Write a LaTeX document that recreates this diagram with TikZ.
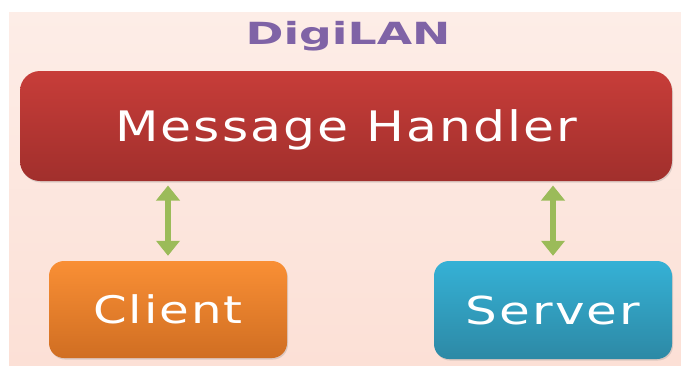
\documentclass[tikz,border=0pt]{standalone}
\usepackage{fontspec}
\usetikzlibrary{arrows.meta,shadows}
\newfontfamily\boxfont[LetterSpace=4]{DejaVu Sans}
\newfontfamily\titlefont{DejaVu Sans Bold}
\definecolor{bgtop}{HTML}{FDEDE7}
\definecolor{bgbot}{HTML}{FCE0D6}
\definecolor{redtop}{HTML}{C73D39}
\definecolor{redbot}{HTML}{A12F2C}
\definecolor{orgtop}{HTML}{F98F35}
\definecolor{orgbot}{HTML}{D06E22}
\definecolor{blutop}{HTML}{35B1D6}
\definecolor{blubot}{HTML}{2D89A5}
\definecolor{titlecol}{HTML}{7F63A6}
\definecolor{linkcol}{HTML}{9BBB59}
\tikzset{
  block/.style={rounded corners=15pt, inner sep=0pt, text=white,
    drop shadow={opacity=0.25, shadow xshift=1pt, shadow yshift=-1.5pt}},
  link/.style={draw=linkcol, line width=6.3pt,
    {Triangle[width=23pt,length=15pt]}-{Triangle[width=23pt,length=15pt]},
    shorten >=4.3pt, shorten <=5pt}
}
\begin{document}
\begin{tikzpicture}[x=1pt,y=-1pt]
  % page and tinted panel
  \fill[white] (0,0) rectangle (681,365);
  \shade[top color=bgtop, bottom color=bgbot] (9,12) rectangle (681,365);
  \useasboundingbox (0,0) rectangle (681,365);

  % heading
  \node[text=titlecol, anchor=base, inner sep=0pt] (title) at (348,44)
    {\scalebox{1.5}[1]{\titlefont\fontsize{30.5}{30.5}\selectfont DigiLAN}};

  % blocks
  \node[block, top color=redtop, bottom color=redbot, rounded corners=20pt,
        minimum width=652pt, minimum height=110pt,
        text height=30pt, text depth=0pt] (mh) at (346,126)
    {\scalebox{1.2}[1]{\boxfont\fontsize{42}{42}\selectfont Message Handler}};
  \node[block, top color=orgtop, bottom color=orgbot,
        minimum width=238pt, minimum height=97pt,
        text height=27.5pt, text depth=0pt] (client) at (168,309.5)
    {\scalebox{1.27}[1]{\boxfont\fontsize{38}{38}\selectfont Client}};
  \node[block, top color=blutop, bottom color=blubot,
        minimum width=238pt, minimum height=98pt,
        text height=28pt, text depth=0pt] (server) at (553,310)
    {\scalebox{1.3}[1]{\boxfont\fontsize{38.5}{38.5}\selectfont Server}};

  % two-way links
  \draw[link] (client.north) -- (client.north |- mh.south);
  \draw[link] (server.north) -- (server.north |- mh.south);
\end{tikzpicture}
\end{document}
